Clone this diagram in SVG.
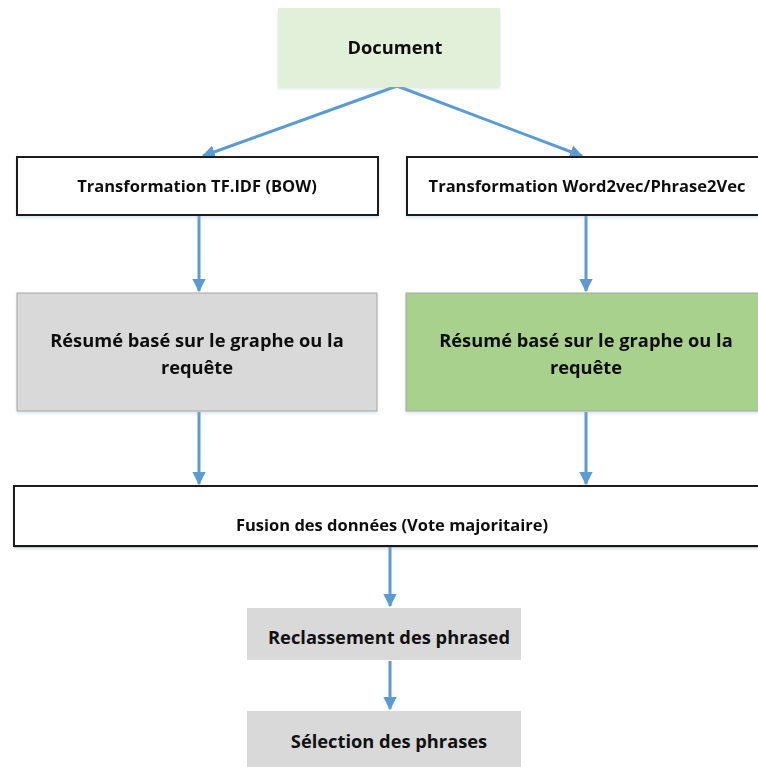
<svg xmlns="http://www.w3.org/2000/svg" width="758" height="767" viewBox="0 0 758 767">
  <style>
    .lbl { font-family: "Open Sans", "Noto Sans", "Liberation Sans", sans-serif; font-weight: 700; fill: #111; text-anchor: middle; }
    .sm { font-size: 16.5px; }
    .lg { font-size: 18.3px; }
    .outlined { fill: #ffffff; stroke: #1a1a1a; stroke-width: 2; }
    .flat { stroke: #a6a6a6; stroke-width: 1; }
    .edge { stroke: #5b9bd5; stroke-width: 3; fill: none; }
  </style>
  <defs>
    <filter id="soft" x="-5%" y="-10%" width="110%" height="130%">
      <feDropShadow dx="0" dy="2" stdDeviation="1.5" flood-color="#9fb6cc" flood-opacity="0.35"/>
    </filter>
    <marker id="head" viewBox="0 0 10 10" refX="9" refY="5" markerWidth="4.4" markerHeight="4.4" orient="auto" markerUnits="strokeWidth">
      <path d="M0,0 L10,5 L0,10 Z" fill="#5b9bd5"/>
    </marker>
  </defs>

  <rect width="758" height="767" fill="#ffffff"/>

  <!-- connectors -->
  <g id="connectors">
    <path class="edge" d="M397,86 L203,156" marker-end="url(#head)"/>
    <path class="edge" d="M397,86 L582,156" marker-end="url(#head)"/>
    <path class="edge" d="M199,216 L199,291" marker-end="url(#head)"/>
    <path class="edge" d="M586,216 L586,291" marker-end="url(#head)"/>
    <path class="edge" d="M199,412 L199,484" marker-end="url(#head)"/>
    <path class="edge" d="M586,412 L586,484" marker-end="url(#head)"/>
    <path class="edge" d="M390,547 L390,606" marker-end="url(#head)"/>
    <path class="edge" d="M390,661 L390,709" marker-end="url(#head)"/>
  </g>

  <!-- nodes -->
  <g id="document" filter="url(#soft)">
    <rect x="278" y="8" width="222" height="79" fill="#e2efd9"/>
    <text class="lbl lg" x="395" y="54">Document</text>
  </g>

  <g id="tfidf" filter="url(#soft)">
    <rect class="outlined" x="17" y="157" width="361" height="58"/>
    <text class="lbl sm" x="197" y="192">Transformation TF.IDF (BOW)</text>
  </g>

  <g id="word2vec" filter="url(#soft)">
    <rect class="outlined" x="407" y="157" width="360" height="58"/>
    <text class="lbl sm" x="587" y="192">Transformation Word2vec/Phrase2Vec</text>
  </g>

  <g id="resume-bow" filter="url(#soft)">
    <rect class="flat" x="17" y="293" width="360" height="118" fill="#d9d9d9"/>
    <text class="lbl lg" x="197" y="347">Résumé basé sur le graphe ou la</text>
    <text class="lbl lg" x="197" y="374">requête</text>
  </g>

  <g id="resume-vec" filter="url(#soft)">
    <rect class="flat" x="406" y="293" width="360" height="118" fill="#a9d18e"/>
    <text class="lbl lg" x="586" y="347">Résumé basé sur le graphe ou la</text>
    <text class="lbl lg" x="586" y="374">requête</text>
  </g>

  <g id="fusion" filter="url(#soft)">
    <rect class="outlined" x="14" y="486" width="760" height="60"/>
    <line x1="14" y1="546.5" x2="760" y2="546.5" stroke="#1a1a1a" stroke-width="1.5"/>
    <text class="lbl sm" x="392" y="531">Fusion des données (Vote majoritaire)</text>
  </g>

  <g id="reclassement">
    <rect x="247" y="608" width="274" height="52" fill="#d9d9d9"/>
    <text class="lbl lg" x="389" y="644">Reclassement des phrased</text>
  </g>

  <g id="selection">
    <rect x="247" y="711" width="274" height="60" fill="#d9d9d9"/>
    <text class="lbl lg" x="389" y="748">Sélection des phrases</text>
  </g>
</svg>
